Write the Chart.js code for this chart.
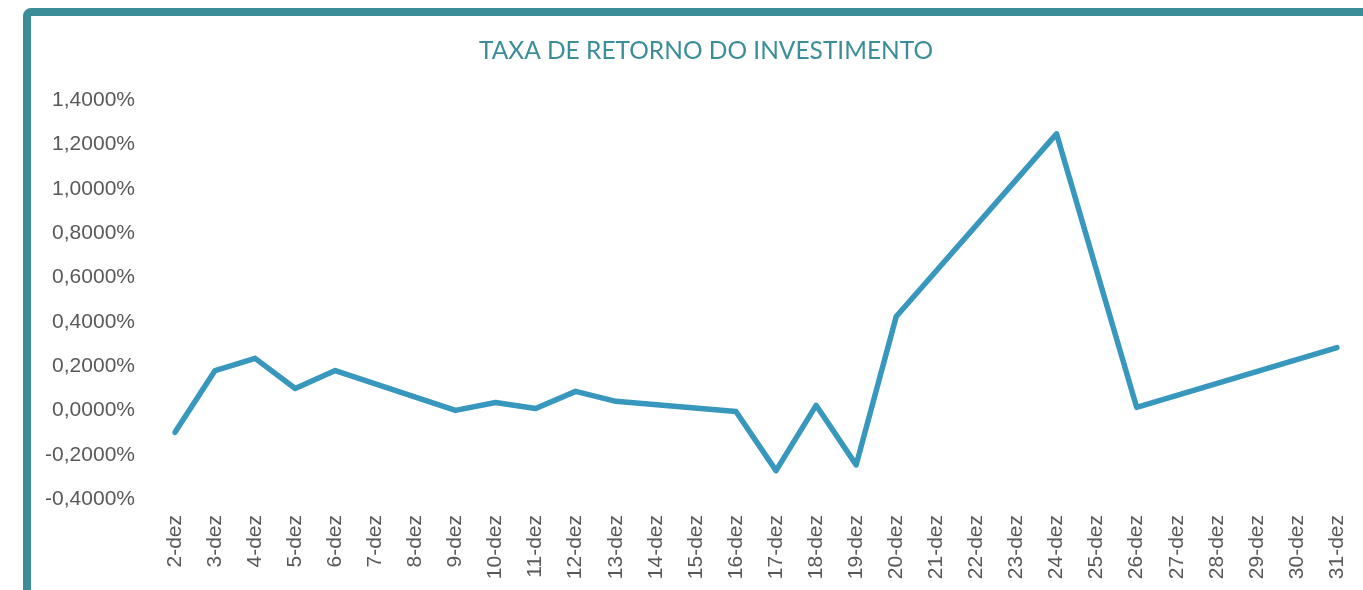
<!DOCTYPE html>
<html>
<head>
<meta charset="utf-8">
<script src="https://cdn.jsdelivr.net/npm/chart.js@4"></script>
<style>
    html, body { margin: 0; padding: 0; background: #fff; overflow: hidden; }
    #frame {
        position: absolute; left: 23px; top: 8px;
        width: 1400px; height: 700px;
        border: 8px solid #3b8e97; border-radius: 8px;
    }
    /* canvas a bit wider than the window so the title centres on the frame */
    #wrap { position: absolute; left: 0; top: 0; width: 1412px; height: 590px; }
</style>
</head>
<body>
<div id="frame"></div>
<div id="wrap"><canvas id="roiChart"></canvas></div>
<script>
// Daily return (%) - days without data are left empty and the line spans them
const days = ['2-dez', '3-dez', '4-dez', '5-dez', '6-dez', '7-dez', '8-dez', '9-dez', '10-dez', '11-dez',
    '12-dez', '13-dez', '14-dez', '15-dez', '16-dez', '17-dez', '18-dez', '19-dez', '20-dez', '21-dez',
    '22-dez', '23-dez', '24-dez', '25-dez', '26-dez', '27-dez', '28-dez', '29-dez', '30-dez', '31-dez'];
const returns = [-0.099, 0.180, 0.235, 0.099, 0.180, null, null, 0.000, 0.036, 0.009,
    0.086, 0.041, null, null, -0.005, -0.272, 0.023, -0.246, 0.424, null,
    null, null, 1.249, null, 0.014, null, null, null, null, 0.284];
const yTicks = { min: -0.4, max: 1.4, step: 0.2 };

const labelFont = { family: 'Liberation Sans, Arial, sans-serif', size: 21 };

const ctx = document.getElementById('roiChart').getContext('2d');
const roiChart = new Chart(ctx, {
    type: 'line',
    data: {
        labels: days,
        datasets: [{
            label: 'Taxa de retorno',
            data: returns,
            borderColor: '#3797bd',
            borderWidth: 5.5,
            borderCapStyle: 'round',
            borderJoinStyle: 'round',
            pointRadius: 0,
            tension: 0,
            spanGaps: true
        }]
    },
    options: {
        responsive: true,
        maintainAspectRatio: false,
        animation: false,
        layout: {
            padding: 0
        },
        plugins: {
            legend: { display: false },
            tooltip: { enabled: false },
            title: {
                display: true,
                text: 'TAXA DE RETORNO DO INVESTIMENTO',
                color: '#3b8e97',
                font: { family: 'Lato, sans-serif', size: 24.5, weight: 'normal' },
                padding: { top: 36, bottom: 35 }
            }
        },
        scales: {
            x: {
                offset: false,
                grid: { display: false },
                border: { display: false },
                ticks: {
                    color: '#595959',
                    font: labelFont,
                    autoSkip: false,
                    minRotation: 90,
                    maxRotation: 90,
                    padding: 8
                },
                afterFit: function(scale) { scale.height = 91; }
            },
            y: {
                min: yTicks.min,
                max: yTicks.max,
                grid: { display: false, drawTicks: false },
                border: { display: false },
                ticks: {
                    stepSize: yTicks.step,
                    color: '#595959',
                    font: labelFont,
                    padding: 40,
                    callback: function(value) {
                        const v = Math.abs(value) < 1e-9 ? 0 : value;
                        return v.toFixed(4).replace('.', ',') + '%';
                    }
                },
                afterFit: function(scale) { scale.width = 175; }
            },
            // empty right-hand spacer so the plot ends where the reference does
            spacer: {
                position: 'right',
                min: yTicks.min,
                max: yTicks.max,
                grid: { display: false, drawTicks: false },
                border: { display: false },
                ticks: { display: false },
                afterFit: function(scale) { scale.width = 75; }
            }
        }
    }
});
</script>
</body>
</html>
